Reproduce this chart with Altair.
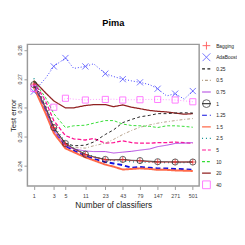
import altair as alt
import pandas as pd

# number of classifiers at which the curves are read
N = [1, 2, 3, 5, 7, 11, 15, 23, 31, 43, 59, 79, 111, 147, 201, 271, 371, 501]
TICKS = [1, 3, 5, 11, 23, 43, 79, 147, 271, 501]
Y_TICKS = [0.24, 0.25, 0.26, 0.27, 0.28]

SERIES = ["Bagging", "AdaBoost", "0.25", "0.5", "0.75", "1", "1.25", "1.5",
          "2.5", "5", "10", "20", "40"]

err_bagging = [0.2682, 0.2602, 0.2532, 0.2474, 0.2458, 0.2438, 0.2430, 0.2421, 0.2420,
               0.2421, 0.2418, 0.2417, 0.2414, 0.2413, 0.2413, 0.2413, 0.2413, 0.2413]
err_adaboost = [0.2656, 0.2702, 0.2743, 0.2772, 0.2736, 0.2743, 0.2752, 0.2718, 0.2708,
                0.2699, 0.2693, 0.2688, 0.2680, 0.2666, 0.2641, 0.2649, 0.2630, 0.2658]
err_025 = [0.2691, 0.2604, 0.2530, 0.2478, 0.2469, 0.2471, 0.2482, 0.2508, 0.2524,
           0.2549, 0.2560, 0.2569, 0.2574, 0.2580, 0.2580, 0.2582, 0.2583, 0.2582]
err_05 = [0.2686, 0.2600, 0.2524, 0.2473, 0.2463, 0.2461, 0.2469, 0.2478, 0.2491,
          0.2508, 0.2522, 0.2533, 0.2541, 0.2547, 0.2552, 0.2556, 0.2560, 0.2563]
err_075 = [0.2684, 0.2597, 0.2522, 0.2469, 0.2458, 0.2451, 0.2449, 0.2449, 0.2444,
           0.2447, 0.2450, 0.2454, 0.2458, 0.2466, 0.2471, 0.2477, 0.2478, 0.2480]
err_1 = [0.2680, 0.2600, 0.2532, 0.2477, 0.2460, 0.2440, 0.2431, 0.2422, 0.2421,
         0.2422, 0.2419, 0.2418, 0.2416, 0.2414, 0.2414, 0.2413, 0.2413, 0.2413]
err_125 = [0.2678, 0.2591, 0.2522, 0.2469, 0.2452, 0.2433, 0.2424, 0.2413, 0.2408,
           0.2402, 0.2393, 0.2396, 0.2393, 0.2391, 0.2391, 0.2389, 0.2388, 0.2386]
err_15 = [0.2671, 0.2582, 0.2513, 0.2460, 0.2447, 0.2429, 0.2419, 0.2404, 0.2397,
          0.2387, 0.2389, 0.2391, 0.2389, 0.2386, 0.2386, 0.2384, 0.2383, 0.2382]
err_25 = [0.2702, 0.2613, 0.2538, 0.2480, 0.2461, 0.2441, 0.2432, 0.2420, 0.2418,
          0.2416, 0.2414, 0.2413, 0.2412, 0.2411, 0.2411, 0.2410, 0.2411, 0.2413]
err_5 = [0.2691, 0.2624, 0.2556, 0.2504, 0.2493, 0.2489, 0.2494, 0.2478, 0.2480,
         0.2486, 0.2480, 0.2478, 0.2478, 0.2480, 0.2480, 0.2482, 0.2480, 0.2478]
err_10 = [0.2693, 0.2636, 0.2580, 0.2532, 0.2538, 0.2540, 0.2547, 0.2556, 0.2556,
          0.2544, 0.2539, 0.2538, 0.2536, 0.2532, 0.2538, 0.2538, 0.2536, 0.2533]
err_20 = [0.2694, 0.2652, 0.2624, 0.2600, 0.2600, 0.2608, 0.2611, 0.2611, 0.2604,
          0.2610, 0.2602, 0.2597, 0.2591, 0.2588, 0.2586, 0.2582, 0.2578, 0.2580]
err_40 = [0.2667, 0.2630, 0.2602, 0.2633, 0.2630, 0.2627, 0.2629, 0.2629, 0.2630,
          0.2627, 0.2628, 0.2628, 0.2629, 0.2629, 0.2628, 0.2627, 0.2624, 0.2621]

VALUES = [err_bagging, err_adaboost, err_025, err_05, err_075, err_1, err_125, err_15,
          err_25, err_5, err_10, err_20, err_40]

rows = []
for s, vals in zip(SERIES, VALUES):
    for n, v in zip(N, vals):
        rows.append({"series": s, "n": n, "err": v})
df = pd.DataFrame(rows)
leg = pd.DataFrame({"series": SERIES, "idx": list(range(len(SERIES)))})

LINE_COLORS = ["#FF2020", "#3A3AFF", "#222222", "#B5A088", "#B040E0", "#444444",
               "#1010E0", "#FF6A4A", "#109090", "#FF1493", "#33DD33", "#902020", "#FF99FF"]
DASHES = [[1, 0], [1, 2], [3, 2.5], [1, 2, 3, 2], [1, 0], [1, 0], [5, 3], [1, 0],
          [1, 3], [4, 2], [3, 2], [1, 0], [1, 2]]
MARKER_SERIES = ["Bagging", "AdaBoost", "1", "40"]
MARKER_COLORS = ["#FF2020", "#3A3AFF", "#222222", "#FF44FF"]
MARKER_SHAPES = ["M-1,0L1,0M0,-1L0,1", "M-1,-1L1,1M1,-1L-1,1", "circle", "square"]
THICK = ["1.25", "1.5"]
MEDIUM = ["5", "20", "2.5"]

color = alt.Color("series:N", scale=alt.Scale(domain=SERIES, range=LINE_COLORS), legend=None)
dash = alt.StrokeDash("series:N", scale=alt.Scale(domain=SERIES, range=DASHES), legend=None)
mcolor = alt.Color("series:N", scale=alt.Scale(domain=MARKER_SERIES, range=MARKER_COLORS), legend=None)
mshape = alt.Shape("series:N", scale=alt.Scale(domain=MARKER_SERIES, range=MARKER_SHAPES), legend=None)

x = alt.X("n1:Q", scale=alt.Scale(type="log", domain=[1.6, 626], nice=False),
          axis=alt.Axis(values=[t + 1 for t in TICKS], labelExpr="datum.value - 1",
                        title="Number of classifiers", labelPadding=4, titlePadding=2.5,
                        titleFontSize=8.5, labelFlush=False, labelOverlap=False))
y = alt.Y("err:Q", scale=alt.Scale(domain=[0.233, 0.2819], nice=False, zero=False),
          axis=alt.Axis(values=Y_TICKS, format=".2f", labelAngle=-90, labelAlign="center",
                        labelBaseline="bottom", labelPadding=2, title="Test error",
                        titlePadding=0, titleFontSize=8, labelFlush=False, labelOverlap=False))
y_na = alt.Y("err:Q", scale=alt.Scale(domain=[0.233, 0.2819], nice=False, zero=False), axis=None)

base = alt.Chart(df).transform_calculate(n1="datum.n + 1")

thick = base.transform_filter(alt.FieldOneOfPredicate(field="series", oneOf=THICK)).mark_line(
    strokeWidth=2, clip=True).encode(x=x, y=y, color=color, strokeDash=dash)
medium = base.transform_filter(alt.FieldOneOfPredicate(field="series", oneOf=MEDIUM)).mark_line(
    strokeWidth=1.3, clip=True).encode(x=x, y=y_na, color=color, strokeDash=dash)
thin = base.transform_filter(
    ~alt.FieldOneOfPredicate(field="series", oneOf=THICK + MEDIUM)).mark_line(
    strokeWidth=1, clip=True).encode(x=x, y=y_na, color=color, strokeDash=dash)
markers = base.transform_filter(
    alt.FieldOneOfPredicate(field="series", oneOf=MARKER_SERIES)).transform_filter(
    alt.FieldOneOfPredicate(field="n", oneOf=TICKS)).mark_point(
    filled=False, strokeWidth=1, size=40, clip=True).encode(x=x, y=y_na, color=mcolor, shape=mshape)

ly = alt.Y("idx:Q", scale=alt.Scale(domain=[0, 12], range=[1.3, 144.7]), axis=None)
leg_base = alt.Chart(leg)
leg_lines = leg_base.transform_filter(
    ~alt.FieldOneOfPredicate(field="series", oneOf=["Bagging", "AdaBoost", "40"])).mark_rule(
    strokeWidth=1.2).encode(x=alt.value(180), x2=alt.value(189), y=ly, color=color, strokeDash=dash)
leg_pts = leg_base.transform_filter(
    alt.FieldOneOfPredicate(field="series", oneOf=MARKER_SERIES)).mark_point(
    filled=False, strokeWidth=1, size=64).encode(x=alt.value(184.5), y=ly, color=mcolor, shape=mshape)
leg_text = leg_base.mark_text(align="left", baseline="middle", fontSize=5, font="Liberation Sans",
                              color="#222222").encode(x=alt.value(194.5), y=ly, text="series:N")

chart = alt.layer(thick, medium, thin, markers, leg_lines, leg_pts, leg_text).resolve_scale(
    y="independent", color="independent", strokeDash="independent", shape="independent"
).properties(
    width=177, height=146,
    title=alt.Title("Pima", fontSize=9.5, fontWeight="bold", font="Liberation Sans", offset=13,
                    color="#000000"),
    autosize=alt.AutoSizeParams(type="none"),
    padding={"left": 20, "top": 34, "right": 39, "bottom": 49},
).configure_view(stroke="#9a9a9a", strokeWidth=1.5).configure_axis(
    grid=False, domain=False, tickColor="#9a9a9a", tickWidth=1, tickSize=3.5,
    labelColor="#444444", labelFontSize=5.5, labelFont="Liberation Sans",
    titleFont="Liberation Sans", titleFontWeight="normal", titleColor="#222222")

chart.save("out.html", embed_options={"renderer": "svg", "actions": False})
